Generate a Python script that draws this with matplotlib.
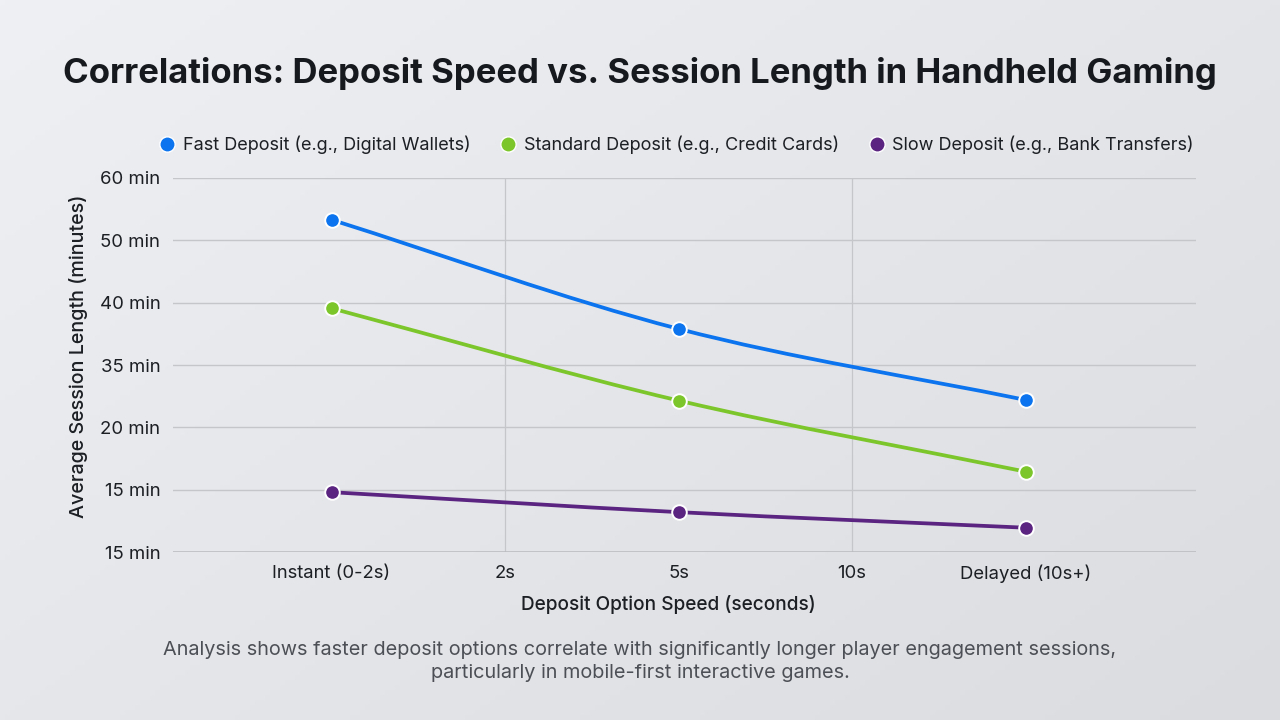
import matplotlib
matplotlib.use("Agg")
import matplotlib.pyplot as plt
import numpy as np
from matplotlib.path import Path
from matplotlib.patches import PathPatch
from matplotlib.lines import Line2D

# ---------------------------------------------------------------------------
# Data (y values are positions on the evenly spaced, labelled y grid)
# ---------------------------------------------------------------------------
speed_labels = ["Instant (0-2s)", "2s", "5s", "10s", "Delayed (10s+)"]
measured_idx = [0, 2, 4]          # categories where a marker is plotted
y_tick_labels = ["15 min", "15 min", "20 min", "35 min", "40 min", "50 min", "60 min"]

fast_deposit = [5.33, 3.58, 2.44]
standard_deposit = [3.91, 2.43, 1.29]
slow_deposit = [0.96, 0.64, 0.39]

series_names = [
    "Fast Deposit (e.g., Digital Wallets)",
    "Standard Deposit (e.g., Credit Cards)",
    "Slow Deposit (e.g., Bank Transfers)",
]

# ---------------------------------------------------------------------------
# Style
# ---------------------------------------------------------------------------
COLORS = ["#0b74ee", "#7cc62b", "#5a2480"]
GRID_COL = "#c4c6ca"
TEXT_COL = "#1c1f24"
FONT = ["Inter", "DejaVu Sans"]

plt.rcParams.update({
    "font.family": FONT,
    "text.color": TEXT_COL,
    "axes.labelcolor": TEXT_COL,
    "xtick.color": TEXT_COL,
    "ytick.color": TEXT_COL,
})


def monotone_path(xs, ys):
    """Cubic Hermite (Chart.js style monotone) converted to Bezier segments."""
    xs = np.asarray(xs, float)
    ys = np.asarray(ys, float)
    h = np.diff(xs)
    d = np.diff(ys) / h
    m = np.empty_like(ys)
    m[0], m[-1] = d[0], d[-1]
    m[1:-1] = (d[:-1] + d[1:]) / 2
    verts = [(xs[0], ys[0])]
    codes = [Path.MOVETO]
    for i in range(len(h)):
        verts += [
            (xs[i] + h[i] / 3, ys[i] + m[i] * h[i] / 3),
            (xs[i + 1] - h[i] / 3, ys[i + 1] - m[i + 1] * h[i] / 3),
            (xs[i + 1], ys[i + 1]),
        ]
        codes += [Path.CURVE4] * 3
    return Path(verts, codes)


fig = plt.figure(figsize=(12.8, 7.2), dpi=100)

# soft gradient background
bg = fig.add_axes([0, 0, 1, 1], zorder=-10)
gx, gy = np.meshgrid(np.linspace(0, 1, 256), np.linspace(0, 1, 144))
grad = 0.55 * gx + 0.45 * gy
c0 = np.array([0xef, 0xf0, 0xf3]) / 255
c1 = np.array([0xda, 0xdc, 0xe0]) / 255
img = c0 + (c1 - c0) * grad[..., None]
bg.imshow(img, aspect="auto", extent=[0, 1, 0, 1], origin="upper")
bg.axis("off")

ax = fig.add_axes([0.135, 0.2333, 0.799, 0.5195])
ax.set_facecolor("none")

for vals, color in zip([fast_deposit, standard_deposit, slow_deposit], COLORS):
    patch = PathPatch(monotone_path(measured_idx, vals), facecolor="none",
                      edgecolor=color, linewidth=2.7, zorder=3, capstyle="round")
    ax.add_patch(patch)
    ax.plot(measured_idx, vals, linestyle="none", marker="o", markersize=10.5,
            markerfacecolor=color, markeredgecolor="white", markeredgewidth=1.4,
            zorder=4)

ax.set_xlim(-0.915, 4.98)
ax.set_ylim(0, 6)
ax.set_xticks(range(len(speed_labels)))
ax.set_xticklabels(speed_labels, fontsize=13.3)
ax.set_yticks(range(len(y_tick_labels)))
ax.set_yticklabels(y_tick_labels, fontsize=13.4)
ax.tick_params(length=0, pad=9)
ax.tick_params(axis="y", pad=9)
ax.grid(True, axis="y", color=GRID_COL, linewidth=1.0)
for xv in range(1, len(speed_labels), 2):
    ax.axvline(xv, color=GRID_COL, linewidth=0.9, zorder=0)
for s in ax.spines.values():
    s.set_visible(False)
ax.axhline(0, color="#b8babe", linewidth=1.1, zorder=1)

ax.set_xlabel("Deposit Option Speed (seconds)", fontsize=13.7,
              fontweight="medium")
ax.set_ylabel("Average Session Length (minutes)", fontsize=14.2,
              fontweight="medium")
ax.xaxis.set_label_coords(0.4843, -0.115)
ax.yaxis.set_label_coords(-0.083, 0.524)

fig.text(0.5, 0.898, "Correlations: Deposit Speed vs. Session Length in Handheld Gaming",
         ha="center", va="center", fontsize=25, fontweight="bold", color="#16191e")

handles = [Line2D([], [], linestyle="none", marker="o", markersize=11,
                  markerfacecolor=c, markeredgecolor="white", markeredgewidth=1.0)
           for c in COLORS]
fig.legend(handles, series_names, loc="center", bbox_to_anchor=(0.528, 0.799),
           ncol=3, frameon=False, fontsize=13.0, handletextpad=0.35,
           columnspacing=1.6, handlelength=1.0)

fig.text(0.5, 0.081,
         "Analysis shows faster deposit options correlate with significantly longer player engagement sessions,\n"
         "particularly in mobile-first interactive games.",
         ha="center", va="center", fontsize=14.3, color="#4c4f55", linespacing=1.4)

fig.savefig("out.png", dpi=100)
